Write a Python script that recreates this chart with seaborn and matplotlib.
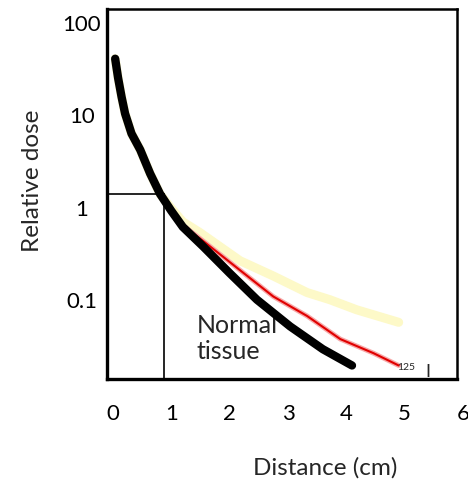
import numpy as np
import pandas as pd
import seaborn as sns
import matplotlib.pyplot as plt
from matplotlib.transforms import ScaledTranslation

normal_dist = [0.14, 0.19, 0.25, 0.31, 0.42, 0.57, 0.74, 0.91, 1.1, 1.3, 1.65, 2.1, 2.57, 3.14, 3.7, 4.2]
normal_dose = [29, 18, 11.2, 7.4, 4.5, 3.0, 1.66, 1.0, 0.66, 0.44, 0.27, 0.14, 0.072, 0.037, 0.021, 0.014]

yellow_dist = [0.14, 0.19, 0.25, 0.31, 0.42, 0.57, 0.74, 0.91, 1.1, 1.3, 1.6, 2.28, 2.85, 3.43, 3.82, 4.28, 5.0]
yellow_dose = [29, 18, 11.2, 7.4, 4.5, 3.0, 1.66, 1.0, 0.7, 0.5, 0.38, 0.19, 0.13, 0.086, 0.072, 0.056, 0.041]

red_dist = [0.91, 1.1, 1.3, 1.65, 2.28, 2.85, 3.43, 4.0, 4.57, 5.0]
red_dose = [1.0, 0.68, 0.46, 0.31, 0.15, 0.078, 0.048, 0.027, 0.019, 0.014]

x_ticks = [0, 1, 2, 3, 4, 5, 6]
y_ticks = [0.1, 1, 10, 100]
y_tick_labels = ["0.1", "1", "10", "100"]

sns.set_style("white")
plt.rcParams["font.family"] = ["Lato", "DejaVu Sans"]

fig = plt.figure(figsize=(4.68, 4.81), dpi=100)
ax = fig.add_axes([107 / 468, 1 - 380 / 481, 350 / 468, 370 / 481])

sns.lineplot(x=yellow_dist, y=yellow_dose, ax=ax, color="#fdf9c8", lw=6.5, zorder=1, sort=False)
sns.lineplot(x=red_dist, y=red_dose, ax=ax, color="#f7a8a8", lw=3.5, zorder=2, sort=False)
sns.lineplot(x=red_dist, y=red_dose, ax=ax, color="#e00000", lw=1.5, zorder=2.1, sort=False)
ax.text(1.54, 0.028, "Normal\ntissue", fontsize=18, va="center", ha="left",
        linespacing=1.15, zorder=2.5)
sns.lineplot(x=normal_dist, y=normal_dose, ax=ax, color="black", lw=6, zorder=3, sort=False)

# reference lines at 1 cm / dose 1
ax.plot([0, 0.98], [1, 1], color="black", lw=1.2, zorder=2.8)
ax.plot([0.98, 0.98], [0.01, 1], color="black", lw=1.2, zorder=2.8)

ax.text(4.97, 0.0138, "125", fontsize=7.5, va="center", ha="left", zorder=4)
ax.text(5.45, 0.0108, "I", fontsize=13, va="baseline", ha="left", zorder=4)

ax.set_yscale("log")
ax.set_xlim(0, 6)
ax.set_ylim(0.01, 100)
ax.set_xticks(x_ticks)
ax.set_xticklabels([str(v) for v in x_ticks])
ax.set_yticks(y_ticks)
ax.set_yticklabels(y_tick_labels)
ax.minorticks_off()

for side in ["left", "bottom"]:
    ax.spines[side].set_linewidth(2.4)
for side in ["top", "right"]:
    ax.spines[side].set_linewidth(1.8)
    ax.spines[side].set_visible(True)
for s in ax.spines.values():
    s.set_color("black")

ax.tick_params(axis="both", which="major", direction="out", length=4, width=2.2,
               colors="black", labelsize=16)
ax.tick_params(axis="y", pad=14)
ax.tick_params(axis="x", pad=13)

for lab in ax.get_yticklabels():
    lab.set_ha("center")
    lab.set_transform(lab.get_transform() + ScaledTranslation(0, -0.13, fig.dpi_scale_trans))
for lab in ax.get_xticklabels():
    lab.set_transform(lab.get_transform() + ScaledTranslation(0.06, 0, fig.dpi_scale_trans))

ax.set_xlabel("Distance (cm)", fontsize=17.5, va="center")
ax.set_ylabel("Relative dose", fontsize=17.5, va="center")
ax.xaxis.set_label_coords(0.623, -0.238)
ax.yaxis.set_label_coords(-0.214, 0.538)

fig.savefig("out.png", dpi=100)
